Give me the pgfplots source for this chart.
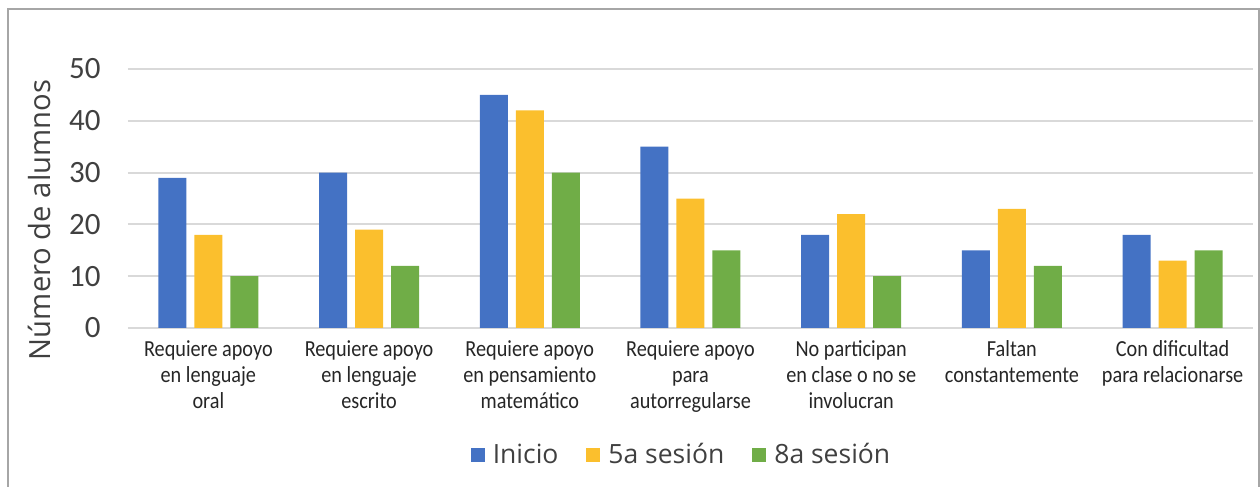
\documentclass[border=0pt]{standalone}
\usepackage{fontspec}
\setmainfont{Carlito}
\newfontfamily\labfont{Open Sans}
\newfontfamily\catfont[FakeStretch=0.88]{Carlito}
\usepackage{pgfplots}
\pgfplotsset{compat=1.18}
\definecolor{cblue}{HTML}{4472C4}
\definecolor{cyell}{HTML}{FBBF2D}
\definecolor{cgreen}{HTML}{70AD47}
\definecolor{gridc}{HTML}{D9D9D9}
\definecolor{txt}{HTML}{404040}
\definecolor{ltxt}{HTML}{404040}
\definecolor{ctxt}{HTML}{262626}
\definecolor{frame}{HTML}{A6A6A6}
\begin{document}
\begin{tikzpicture}
\path[use as bounding box] (0,0) rectangle (630pt,243.5pt);
\draw[frame, line width=1pt] (4pt,0) -- (4pt,239pt) -- (629.5pt,239pt) -- (629.5pt,0);
\begin{axis}[
  at={(64pt,79.5pt)}, anchor=south west,
  scale only axis, width=562.5pt, height=129.5pt,
  ybar=4pt, bar width=14pt,
  xmin=-0.5, xmax=6.5, ymin=0, ymax=50,
  ytick={0,10,20,30,40,50},
  xtick=data,
  xticklabels={{Requiere apoyo\\en lenguaje\\oral},{Requiere apoyo\\en lenguaje\\escrito},{Requiere apoyo\\en pensamiento\\matemático},{Requiere apoyo\\para\\autorregularse},{No participan\\en clase o no se\\involucran},{Faltan\\constantemente},{Con dificultad\\para relacionarse}},
  major tick length=0pt,
  axis x line*=bottom, axis y line*=left,
  y axis line style={draw=none},
  x axis line style={gridc, line width=1.2pt},
  ymajorgrids, grid style={gridc, line width=1pt},
  yticklabel style={font=\fontsize{15.5pt}{18pt}\selectfont, text=txt, inner sep=0pt, anchor=east, xshift=-13.5pt},
  xticklabel style={font=\catfont\fontsize{11.5pt}{13pt}\selectfont, text=ctxt, align=center, anchor=north, inner sep=0pt, yshift=-6pt},
  /pgf/number format/assume math mode=true,
  ylabel={Número de alumnos},
  ylabel style={font=\labfont\fontsize{14.6pt}{17pt}\selectfont, text=txt, at={(axis description cs:-0.0791,0.417)}, anchor=center, inner sep=0pt},
  legend columns=3,
  legend style={at={(rel axis cs:0.4929,-0.490)}, anchor=center, draw=none, fill=none, font=\labfont\fontsize{13.25pt}{16pt}\selectfont, text=ltxt, /tikz/every even column/.append style={column sep=12pt}, /tikz/every odd column/.append style={column sep=2pt}, inner sep=0pt},
  legend image code/.code={\fill[#1] (0pt,-3.5pt) rectangle (7pt,3.5pt);},
  clip=false,
]
\addplot[fill=cblue, draw=none] coordinates {(0,29) (1,30) (2,45) (3,35) (4,18) (5,15) (6,18)};
\addplot[fill=cyell, draw=none] coordinates {(0,18) (1,19) (2,42) (3,25) (4,22) (5,23) (6,13)};
\addplot[fill=cgreen, draw=none] coordinates {(0,10) (1,12) (2,30) (3,15) (4,10) (5,12) (6,15)};
\legend{Inicio,5a sesión,8a sesión}
\end{axis}
\end{tikzpicture}
\end{document}
